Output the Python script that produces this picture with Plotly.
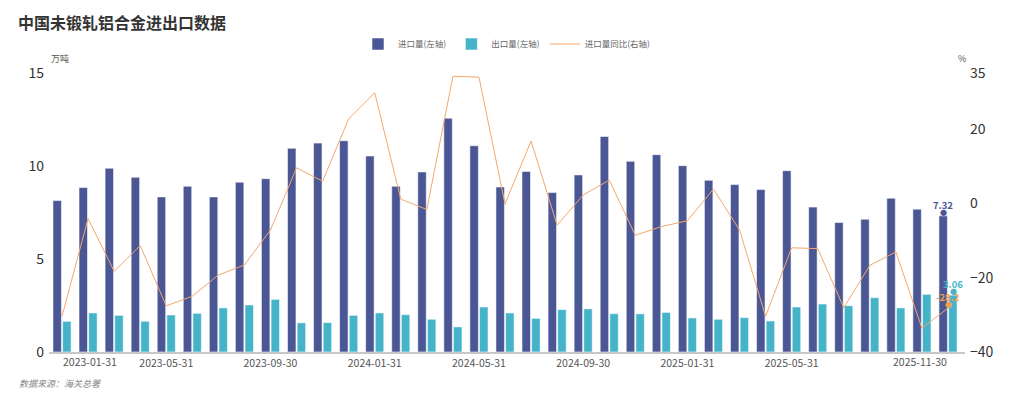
import plotly.graph_objects as go

months = [
    "2023-01-31", "2023-02-28", "2023-03-31", "2023-04-30", "2023-05-31", "2023-06-30",
    "2023-07-31", "2023-08-31", "2023-09-30", "2023-10-31", "2023-11-30", "2023-12-31",
    "2024-01-31", "2024-02-29", "2024-03-31", "2024-04-30", "2024-05-31", "2024-06-30",
    "2024-07-31", "2024-08-31", "2024-09-30", "2024-10-31", "2024-11-30", "2024-12-31",
    "2025-01-31", "2025-02-28", "2025-03-31", "2025-04-30", "2025-05-31", "2025-06-30",
    "2025-07-31", "2025-08-31", "2025-09-30", "2025-10-31", "2025-11-30",
]
imports = [8.14, 8.84, 9.88, 9.39, 8.34, 8.91, 8.34, 9.13, 9.32, 10.95, 11.23, 11.36,
           10.54, 8.91, 9.68, 12.57, 11.09, 8.87, 9.71, 8.57, 9.52, 11.59, 10.25, 10.61,
           10.02, 9.23, 9.00, 8.73, 9.75, 7.79, 6.96, 7.14, 8.27, 7.68, 7.32]
exports = [1.65, 2.10, 1.97, 1.65, 1.99, 2.08, 2.37, 2.53, 2.83, 1.57, 1.58, 1.97,
           2.10, 2.01, 1.76, 1.35, 2.42, 2.10, 1.81, 2.28, 2.32, 2.06, 2.05, 2.13,
           1.83, 1.76, 1.85, 1.67, 2.42, 2.58, 2.49, 2.92, 2.37, 3.10, 3.06]
yoy = [-30.4, -4.1, -18.3, -11.4, -27.6, -25.0, -19.3, -16.6, -7.2, 9.5, 5.9, 22.7,
       29.7, 1.1, -1.7, 34.1, 33.9, -0.2, 16.7, -5.9, 2.2, 6.2, -8.6, -6.3,
       -4.7, 3.8, -7.2, -30.4, -12.0, -12.2, -28.1, -16.7, -13.1, -33.6, -28.2]
mid_tick_labels = ["2023-05-31", "2023-09-30", "2024-01-31", "2024-05-31",
                   "2024-09-30", "2025-01-31", "2025-05-31"]
first_tick_label = "2023-01-31"
last_tick_label = "2025-11-30"
left_ticks = [0, 5, 10, 15]
right_ticks = [-40, -20, 0, 20, 35]

C_IMP = "#4b5795"
C_EXP = "#45b4c9"
C_YOY = "#f5a76c"
C_YOY_LBL = "#f39c4a"
FONT = "Noto Sans CJK SC"

W, H = 1024, 399
ML, MR, MT, MB = 49, 59, 73, 47
PLOT_W = W - ML - MR
PLOT_H = H - MT - MB
BOTTOM = H - MB


def px_x(x):
    return (x - ML) / PLOT_W


def px_y(y):
    return (BOTTOM - y) / PLOT_H


fig = go.Figure()
fig.add_trace(go.Bar(
    x=months, y=imports, name="进口量(左轴)",
    marker=dict(color=C_IMP, line=dict(color="rgba(255,255,255,0.55)", width=1)),
    yaxis="y",
))
fig.add_trace(go.Bar(
    x=months, y=exports, name="出口量(左轴)",
    marker=dict(color=C_EXP, line=dict(color="rgba(255,255,255,0.55)", width=1)),
    yaxis="y",
))
fig.add_trace(go.Scatter(
    x=months, y=yoy, name="进口量同比(右轴)", mode="lines",
    line=dict(color=C_YOY, width=1), yaxis="y2",
))

annotations = []
# edge tick labels (aligned like the reference)
lab_y = px_y(362)
annotations.append(dict(x=months[0], y=lab_y, xref="x", yref="paper", text=first_tick_label,
                        showarrow=False, xanchor="left", yanchor="middle", xshift=-1,
                        font=dict(size=10.5, color="#555", family=FONT)))
annotations.append(dict(x=months[-1], y=lab_y, xref="x", yref="paper", text=last_tick_label,
                        showarrow=False, xanchor="right", yanchor="middle", xshift=1,
                        font=dict(size=10.5, color="#555", family=FONT)))


def pin(x, y, yref, xshift, color, text):
    annotations.append(dict(x=x, y=y, xref="x", yref=yref, text="●", showarrow=False,
                            xshift=xshift, yshift=4, yanchor="middle",
                            font=dict(size=7, color=color)))
    annotations.append(dict(x=x, y=y, xref="x", yref=yref, text="<b>%s</b>" % text,
                            showarrow=False, xshift=xshift, yshift=11, yanchor="middle",
                            font=dict(size=9.5, color=color, family=FONT)))


pin(months[-1], imports[-1], "y", -5, C_IMP, "%.2f" % imports[-1])
pin(months[-1], exports[-1], "y", 5, C_EXP, "%.2f" % exports[-1])
pin(months[-1], yoy[-1], "y2", 0, C_YOY_LBL, "%.1f" % yoy[-1])

# axis names
annotations.append(dict(x=px_x(49), y=px_y(58), xref="paper", yref="paper",
                        text="万吨", showarrow=False, xanchor="left", yanchor="middle",
                        font=dict(size=9, color="#555", family=FONT)))
annotations.append(dict(x=px_x(962), y=px_y(58), xref="paper", yref="paper",
                        text="%", showarrow=False, xanchor="center", yanchor="middle",
                        font=dict(size=9, color="#555", family=FONT)))
# source
annotations.append(dict(x=px_x(17), y=px_y(383), xref="paper", yref="paper",
                        text="<i>数据来源：海关总署</i>", showarrow=False,
                        xanchor="left", yanchor="middle",
                        font=dict(size=9, color="#888", family=FONT)))

fig.update_layout(
    width=W, height=H,
    margin=dict(l=ML, r=MR, t=MT, b=MB),
    paper_bgcolor="white", plot_bgcolor="white",
    font=dict(family=FONT, color="#333"),
    title=dict(text="<b>中国未锻轧铝合金进出口数据</b>", x=18 / W, xanchor="left",
               xref="container", yref="container", y=1 - 23 / H, yanchor="middle",
               font=dict(size=16, color="#333", family=FONT)),
    barmode="group", bargap=0.26, bargroupgap=0.12,
    showlegend=True,
    legend=dict(orientation="h", x=0.5, xanchor="center", y=px_y(44),
                yanchor="middle", font=dict(size=8.5, color="#666", family=FONT),
                itemwidth=30, tracegroupgap=0, bgcolor="rgba(0,0,0,0)"),
    xaxis=dict(type="category", categoryorder="array", categoryarray=months,
               tickmode="array", tickvals=mid_tick_labels, ticktext=mid_tick_labels,
               tickfont=dict(size=10.5, color="#555", family=FONT),
               showgrid=False, showline=True, linecolor="#c8c8c8", linewidth=2,
               ticks="", zeroline=False, tickangle=0),
    yaxis=dict(range=[0, 15], tickvals=left_ticks, showgrid=False, zeroline=False,
               showline=False, ticks="", tickfont=dict(size=14, color="#333", family=FONT),
               ticklabelstandoff=4),
    yaxis2=dict(range=[-40, 35], tickvals=right_ticks, overlaying="y", side="right",
                showgrid=False, zeroline=False, showline=False, ticks="",
                tickfont=dict(size=14, color="#333", family=FONT), ticklabelstandoff=4),
    annotations=annotations,
)

fig.write_html(
    "out.html",
    config={"displayModeBar": False},
    post_script="document.body.style.margin='0';document.body.style.overflow='hidden';",
)
